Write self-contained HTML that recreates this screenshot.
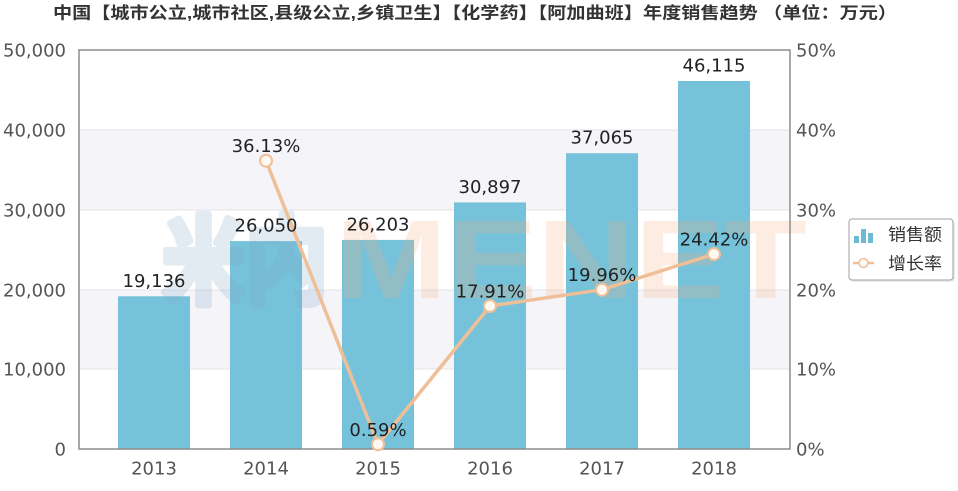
<!DOCTYPE html>
<html><head><meta charset="utf-8"><style>
html,body{margin:0;padding:0;background:#fff;}
svg{display:block;}
</style></head><body>
<svg width="958" height="491" viewBox="0 0 958 491" xmlns="http://www.w3.org/2000/svg">
<rect x="0" y="0" width="958" height="491" fill="#fff"/>
<text x="53" y="18.5" font-family="'Liberation Sans','Noto Sans CJK SC',sans-serif" font-weight="bold" font-size="16.5" fill="#333" textLength="844" lengthAdjust="spacingAndGlyphs">中国【城市公立,城市社区,县级公立,乡镇卫生】【化学药】【阿加曲班】年度销售趋势 （单位：万元）</text>
<!-- bands -->
<rect x="79" y="130" width="711" height="80" fill="#f5f4f8"/>
<rect x="79" y="290" width="711" height="79" fill="#f5f4f8"/>
<g stroke="#e4e4e8" stroke-width="1">
<line x1="79" y1="130" x2="790" y2="130"/>
<line x1="79" y1="210" x2="790" y2="210"/>
<line x1="79" y1="290" x2="790" y2="290"/>
<line x1="79" y1="369" x2="790" y2="369"/>
</g>
<!-- bars -->
<g fill="#76c2da">
<rect x="118" y="296.3" width="72" height="152.7"/>
<rect x="230" y="241.1" width="72" height="207.9"/>
<rect x="342" y="239.9" width="72" height="209.1"/>
<rect x="454" y="202.4" width="72" height="246.6"/>
<rect x="566" y="153.2" width="72" height="295.8"/>
<rect x="678" y="81" width="72" height="368"/>
</g>
<!-- watermark -->
<g opacity="0.22">
<text x="162" y="296" font-family="'Liberation Sans','Noto Sans CJK SC',sans-serif" font-weight="bold" font-size="96" fill="#7fa6c8" stroke="#7fa6c8" stroke-width="7" stroke-linejoin="round" textLength="166" lengthAdjust="spacingAndGlyphs">米内</text>
</g>
<g opacity="0.22">
<text x="335" y="298" font-family="'Liberation Sans',sans-serif" font-weight="bold" font-size="112" fill="#f7ad7c" textLength="472" lengthAdjust="spacingAndGlyphs">MENET</text>
</g>
<!-- frame -->
<rect x="79" y="50" width="711" height="399" fill="none" stroke="#8c8c8c" stroke-width="1.5"/>
<!-- line -->
<polyline points="266,160.7 378,444.3 490,306 602,289.7 714,254.1" fill="none" stroke="#efbf98" stroke-width="3.5" stroke-linejoin="round"/>
<g fill="#fff9f2" stroke="#efbf98" stroke-width="2">
<circle cx="266" cy="160.7" r="6"/>
<circle cx="378" cy="444.3" r="6"/>
<circle cx="490" cy="306" r="6"/>
<circle cx="602" cy="289.7" r="6"/>
<circle cx="714" cy="254.1" r="6"/>
</g>
<!-- data labels -->
<g font-family="'DejaVu Sans','Liberation Sans',sans-serif" font-size="18" fill="#222" text-anchor="middle">
<text x="154" y="287">19,136</text>
<text x="266" y="231.6">26,050</text>
<text x="378" y="230.4">26,203</text>
<text x="490" y="192.9">30,897</text>
<text x="602" y="143.7">37,065</text>
<text x="714" y="71.5">46,115</text>
<text x="266" y="152.2">36.13%</text>
<text x="378" y="435.8">0.59%</text>
<text x="490" y="297.5">17.91%</text>
<text x="602" y="281.2">19.96%</text>
<text x="714" y="245.6">24.42%</text>
</g>
<!-- axis labels -->
<g font-family="'DejaVu Sans','Liberation Sans',sans-serif" font-size="18" fill="#555">
<g text-anchor="end">
<text x="66" y="56.5">50,000</text>
<text x="66" y="136.5">40,000</text>
<text x="66" y="216.5">30,000</text>
<text x="66" y="296.5">20,000</text>
<text x="66" y="375.5">10,000</text>
<text x="66" y="455.5">0</text>
</g>
<g text-anchor="start">
<text x="796" y="56.5">50%</text>
<text x="796" y="136.5">40%</text>
<text x="796" y="216.5">30%</text>
<text x="796" y="296.5">20%</text>
<text x="796" y="375.5">10%</text>
<text x="796" y="455.5">0%</text>
</g>
<g text-anchor="middle">
<text x="154" y="474.5">2013</text>
<text x="266" y="474.5">2014</text>
<text x="378" y="474.5">2015</text>
<text x="490" y="474.5">2016</text>
<text x="602" y="474.5">2017</text>
<text x="714" y="474.5">2018</text>
</g>
</g>
<!-- legend -->
<rect x="851" y="221" width="104" height="61" rx="3" fill="#000" fill-opacity="0.08"/>
<rect x="849" y="219" width="104" height="61" rx="3" fill="#fff" stroke="#a0a0a0" stroke-width="1"/>
<g fill="#6cbad4">
<rect x="854" y="236" width="5" height="7"/>
<rect x="861" y="229" width="5" height="14"/>
<rect x="868" y="233" width="5" height="10"/>
</g>
<line x1="853" y1="263" x2="874" y2="263" stroke="#efbf98" stroke-width="2.5"/>
<circle cx="863.5" cy="263" r="4.5" fill="#fff9f2" stroke="#efbf98" stroke-width="1.5"/>
<g font-family="'Liberation Sans','Noto Sans CJK SC',sans-serif" font-size="17" fill="#333">
<text x="888" y="240.5" textLength="54" lengthAdjust="spacingAndGlyphs">销售额</text>
<text x="888" y="269.5" textLength="54" lengthAdjust="spacingAndGlyphs">增长率</text>
</g>
</svg>
</body></html>
